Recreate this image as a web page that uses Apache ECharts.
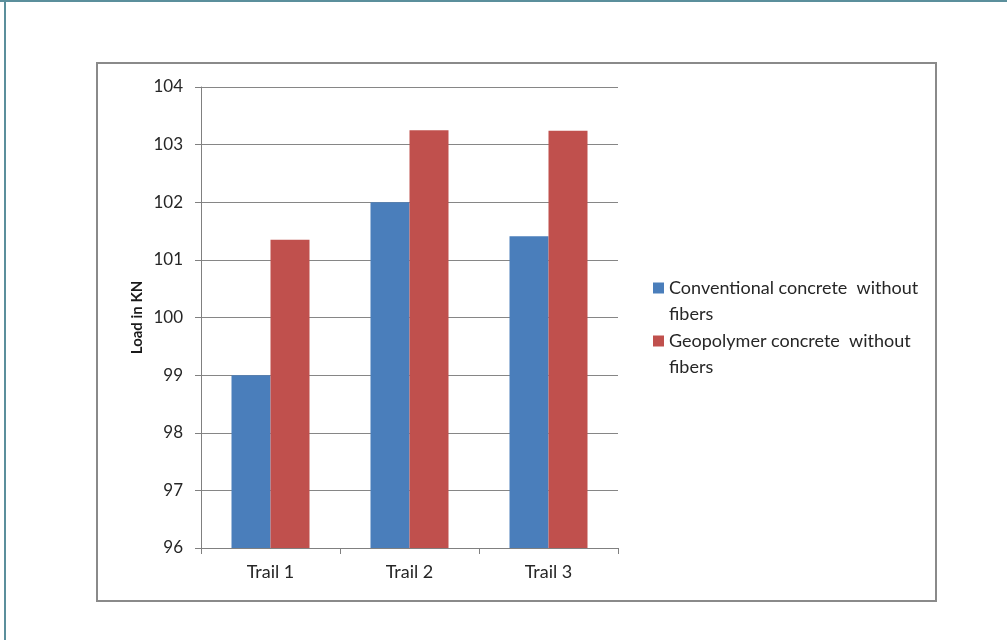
<!DOCTYPE html>
<html>
<head>
<meta charset="utf-8">
<script src="https://cdn.jsdelivr.net/npm/echarts@6/dist/echarts.min.js"></script>
<style>
  html, body { margin: 0; padding: 0; background: #ffffff; }
  #chart { width: 1007px; height: 640px; }
</style>
</head>
<body>
<div id="chart"></div>
<script>
// Load test results per trial
const categories = ['Trail 1', 'Trail 2', 'Trail 3'];
const seriesNames = ['Conventional concrete  without\nfibers', 'Geopolymer concrete  without\nfibers'];
const conventional = [99.0, 102.0, 101.41];
const geopolymer = [101.35, 103.25, 103.24];
const yTicks = { min: 96, max: 104, step: 1 };
const yAxisTitle = 'Load in KN';

const FONT = 'Lato, "Liberation Sans", sans-serif';
const LINE = 26;
const chart = echarts.init(document.getElementById('chart'), null, { renderer: 'canvas' });

// Legend text: an empty spacer line on top keeps the swatch level with the first line
function legendLabel(name) {
  return '{s|}\n' + name.split('\n').map(l => '{t|' + l + '}').join('\n');
}

chart.setOption({
  backgroundColor: '#ffffff',
  animation: false,
  textStyle: { fontFamily: FONT },
  graphic: [
    // page border (top and left edges)
    { type: 'line', shape: { x1: 0, y1: 1, x2: 1007, y2: 1 }, style: { stroke: '#5b8f9c', lineWidth: 2 } },
    { type: 'line', shape: { x1: 5, y1: 0, x2: 5, y2: 640 }, style: { stroke: '#5b8f9c', lineWidth: 2 } },
    // chart frame
    { type: 'rect', shape: { x: 97, y: 63, width: 839, height: 538 }, style: { fill: null, stroke: '#8a8a8a', lineWidth: 2 } }
  ],
  grid: { left: 201, top: 87, width: 417, height: 461, containLabel: false },
  legend: {
    orient: 'vertical',
    left: 648,
    top: 248,
    itemWidth: 11,
    itemHeight: 11,
    itemGap: -17,
    icon: 'rect',
    formatter: legendLabel,
    textStyle: {
      fontFamily: FONT, fontSize: 18, color: '#262626',
      rich: {
        s: { fontSize: 18, lineHeight: LINE, fontFamily: FONT },
        t: { fontSize: 18, lineHeight: LINE, fontFamily: FONT, color: '#262626' }
      }
    },
    data: seriesNames
  },
  xAxis: {
    type: 'category',
    data: categories,
    axisLine: { lineStyle: { color: '#808080', width: 1 } },
    axisTick: { show: true, length: 6, lineStyle: { color: '#808080' } },
    axisLabel: { color: '#262626', fontSize: 18, margin: 15, fontFamily: FONT },
    splitLine: { show: false }
  },
  yAxis: {
    type: 'value',
    min: yTicks.min,
    max: yTicks.max,
    interval: yTicks.step,
    name: yAxisTitle,
    nameLocation: 'middle',
    nameGap: 56,
    nameRotate: 90,
    nameTextStyle: { fontSize: 15, fontWeight: 'bold', color: '#1a1a1a', fontFamily: FONT },
    axisLine: { show: true, lineStyle: { color: '#808080', width: 1 } },
    axisTick: { show: true, length: 6, lineStyle: { color: '#808080' } },
    axisLabel: { color: '#262626', fontSize: 17, margin: 18, fontFamily: FONT },
    splitLine: { show: true, lineStyle: { color: '#868686', width: 1 } }
  },
  series: [
    {
      name: seriesNames[0],
      type: 'bar',
      data: conventional,
      barWidth: 39,
      barGap: '0%',
      itemStyle: { color: '#4a7ebb' }
    },
    {
      name: seriesNames[1],
      type: 'bar',
      data: geopolymer,
      barWidth: 39,
      barGap: '0%',
      itemStyle: { color: '#c0504d' }
    }
  ]
});
</script>
</body>
</html>
